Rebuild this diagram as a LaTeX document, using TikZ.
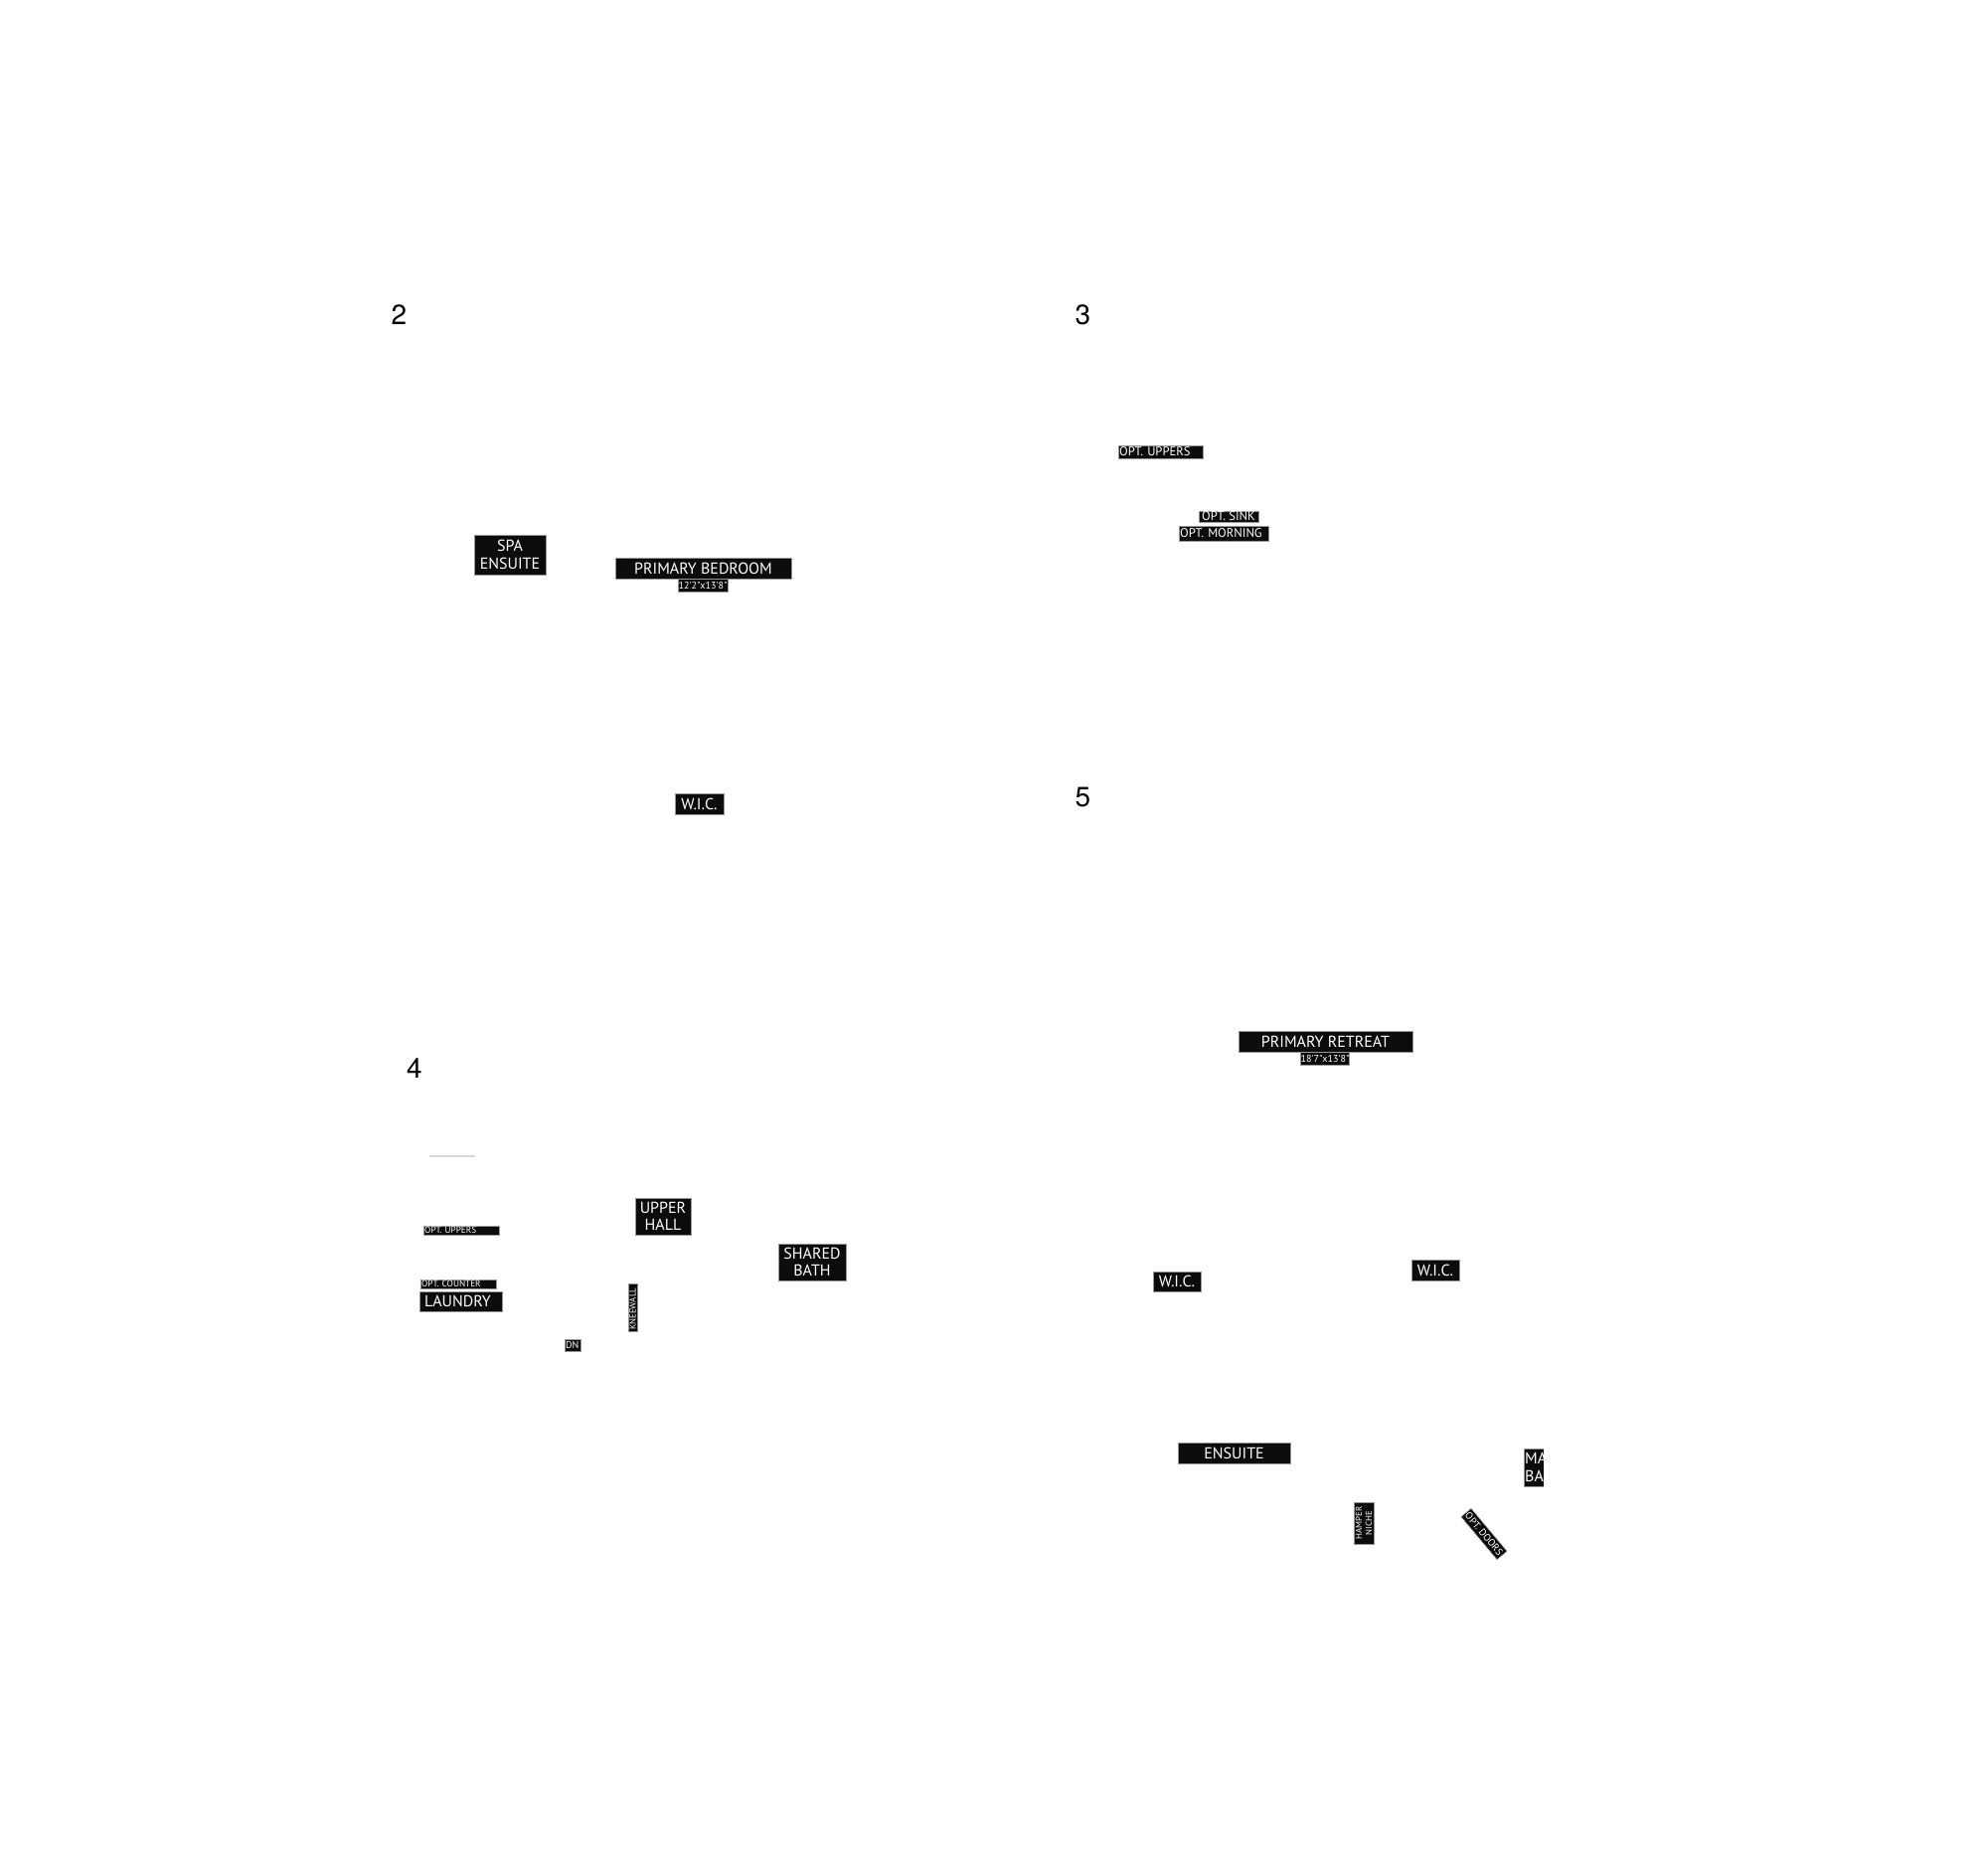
\documentclass[tikz,border=0pt]{standalone}
\usepackage{fontspec}
\newfontfamily\tagfont{PT Sans}
\newfontfamily\numfont{TeX Gyre Heros}
\definecolor{tagink}{RGB}{12,12,12}
\definecolor{tagedge}{RGB}{150,150,150}
\definecolor{hairgray}{RGB}{215,215,215}

\begin{document}
\begin{tikzpicture}[x=0.5pt, y=-0.5pt,
    tag/.style={fill=tagink, draw=tagedge, line width=0.3pt, text=white, inner sep=0pt, align=center,
        font=\tagfont\fontsize{8}{8.8}\selectfont},
    tagsm/.style={tag, font=\tagfont\fontsize{5}{5.4}\selectfont},
    tagleft/.style={align=left, inner xsep=0.6pt},
    plannum/.style={font=\numfont\fontsize{14}{14}\selectfont, inner sep=0pt}]
    \useasboundingbox (0,0) rectangle (2000,1884);

    % Plan 2
    \node[plannum] (num2) at (401.5,317) {2};
    \node[tag, minimum width=36pt, minimum height=20pt] (spa) at (513,558) {SPA\\ENSUITE};
    \node[tag, minimum width=88.5pt, minimum height=10.5pt] (pbed) at (707.5,571.5) {PRIMARY BEDROOM};
    \node[tagsm, minimum width=25pt, minimum height=6.5pt] (pbeddim) at (707,588.5) {12'2"x13'8"};
    \node[tag, minimum width=24.5pt, minimum height=10.5pt] (wic2) at (703.5,808.5) {W.I.C.};

    % Plan 3
    \node[plannum] (num3) at (1089.5,317) {3};
    \node[tag, tagleft, font=\tagfont\fontsize{6.3}{6.5}\selectfont, text width=41.3pt, minimum height=6.5pt]
        (uppers3) at (1167.5,454.5) {OPT. UPPERS};
    \node[tag, font=\tagfont\fontsize{6.3}{6.5}\selectfont, minimum width=30pt, minimum height=5.5pt]
        (sink) at (1236,519.5) {OPT. SINK};
    \node[tag, tagleft, font=\tagfont\fontsize{6.3}{6.5}\selectfont, text width=43.8pt, minimum height=7.5pt]
        (morning) at (1231,536.5) {OPT. MORNING};

    % Plan 4
    \node[plannum] (num4) at (417,1074.5) {4};
    \draw[hairgray, line width=1pt] (432,1163) -- (478,1163);
    \node[tag, tagleft, font=\tagfont\fontsize{4.6}{5}\selectfont, text width=36.8pt, minimum height=4.5pt]
        (uppers4) at (464,1237.5) {OPT. UPPERS};
    \node[tag, tagleft, font=\tagfont\fontsize{4.6}{5}\selectfont, text width=36.8pt, minimum height=4.5pt]
        (counter) at (461,1291.5) {OPT. COUNTER};
    \node[tag, align=left, inner xsep=2.5pt, text width=36.5pt, minimum height=10pt]
        (laundry) at (463.5,1309) {LAUNDRY};
    \node[tag, minimum width=28pt, minimum height=18.5pt] (upperhall) at (667,1223.5) {UPPER\\HALL};
    \node[tag, minimum width=34pt, minimum height=18.5pt] (sharedbath) at (817,1269.5) {SHARED\\BATH};
    \node[tag, tagleft, rotate=90, font=\tagfont\fontsize{4.4}{4.8}\selectfont, text width=22.8pt, minimum height=4.5pt]
        (kneewall) at (636.5,1315) {KNEEWALL};
    \node[tagsm, tagleft, text width=6.8pt, minimum height=6pt] (dn) at (576,1353) {DN};

    % Plan 5
    \node[plannum] (num5) at (1089.5,801.5) {5};
    \node[tag, minimum width=87.5pt, minimum height=10.5pt] (retreat) at (1333.5,1047.5) {PRIMARY RETREAT};
    \node[tagsm, minimum width=24pt, minimum height=6.5pt] (retreatdim) at (1333,1064.5) {18'7"x13'8"};
    \node[tag, minimum width=24pt, minimum height=10pt] (wicleft) at (1184,1289) {W.I.C.};
    \node[tag, minimum width=24pt, minimum height=10.5pt] (wicright) at (1444,1277.5) {W.I.C.};
    \node[tag, minimum width=56.5pt, minimum height=10.5pt] (ensuite) at (1241.5,1461.5) {ENSUITE};
    \begin{scope}
        \clip (1533,1457) rectangle (1553,1495);
        \node[tag, tagleft, text width=8.8pt, minimum height=19pt] (mabath) at (1543,1476) {MA\\BA};
    \end{scope}
    \node[tag, rotate=90, font=\tagfont\fontsize{4.4}{5}\selectfont, minimum width=21pt, minimum height=10pt]
        (hamper) at (1372,1532) {HAMPER\\NICHE};
    \node[tagsm, rotate=-50, minimum width=28pt, minimum height=6.5pt] (doors) at (1493,1543) {OPT. DOORS};
\end{tikzpicture}
\end{document}
